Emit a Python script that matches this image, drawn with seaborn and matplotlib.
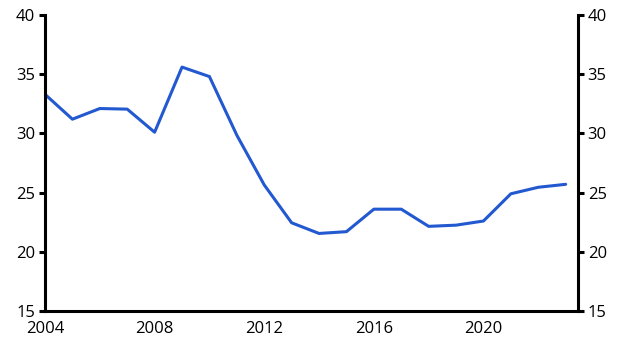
import matplotlib
matplotlib.use("Agg")
import matplotlib.pyplot as plt
import seaborn as sns
import pandas as pd

years = list(range(2004, 2024))
values = [33.3, 31.2, 32.1, 32.05, 30.1, 35.6, 34.8, 29.85, 25.65, 22.45,
          21.55, 21.7, 23.6, 23.6, 22.15, 22.25, 22.6, 24.9, 25.45, 25.7]
x_ticks = [2004, 2008, 2012, 2016, 2020]
y_ticks = [15, 20, 25, 30, 35, 40]

sns.set_style("white")
plt.rcParams['font.family'] = ['Open Sans', 'DejaVu Sans']

df = pd.DataFrame({"year": years, "value": values})

fig = plt.figure(figsize=(6.31, 3.6), dpi=100)
ax = fig.add_axes([45/631, 1-311/360, (578-45)/631, (311-15)/360])
sns.lineplot(data=df, x="year", y="value", ax=ax, color="#2258d0", linewidth=2.2)
ax.set_xlim(2004, 2023.45)
ax.set_ylim(15, 40)
ax.set_xticks(x_ticks)
ax.set_yticks(y_ticks)
ax.set_xlabel("")
ax.set_ylabel("")
for s in ["top", "right"]:
    ax.spines[s].set_visible(False)
for s in ["left", "bottom"]:
    ax.spines[s].set_linewidth(2.2)
    ax.spines[s].set_color("black")
ax.tick_params(axis="both", direction="out", length=4, width=2.2, labelsize=12, colors="black", pad=3)

ax2 = ax.twinx()
ax2.set_ylim(15, 40)
ax2.set_yticks(y_ticks)
for s in ["top", "left", "bottom"]:
    ax2.spines[s].set_visible(False)
ax2.spines["right"].set_linewidth(2.2)
ax2.spines["right"].set_color("black")
ax2.tick_params(axis="y", direction="out", length=4, width=2.2, labelsize=12, colors="black", pad=3)

fig.savefig("out.png", dpi=100)
